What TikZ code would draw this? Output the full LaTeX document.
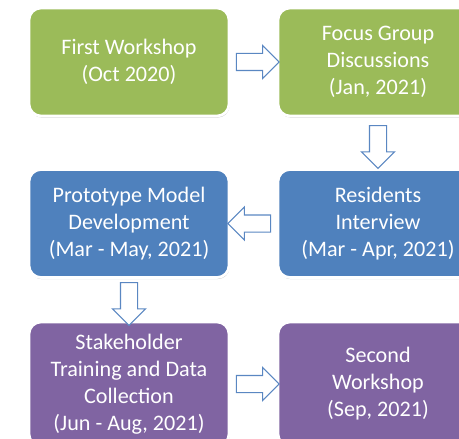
\documentclass[tikz,border=0pt]{standalone}
\usepackage{fontspec}
\setmainfont{Carlito}
\usetikzlibrary{shapes.arrows, shadows, calc}

\definecolor{phgreen}{HTML}{9BBB59}
\definecolor{phblue}{HTML}{4F81BD}
\definecolor{phpurple}{HTML}{8064A2}
\definecolor{arrowline}{HTML}{5A87C2}

\begin{document}
\begin{tikzpicture}[
  x=0.75pt, y=-0.75pt,
  phasebox/.style={rectangle, rounded corners=9pt, draw=white, line width=2pt,
                   minimum width=150pt, minimum height=81pt, align=center,
                   text=white, font=\fontsize{16.6}{20.25}\selectfont,
                   drop shadow={shadow xshift=0.5pt, shadow yshift=-1.2pt,
                                opacity=0.3, fill=black!70}},
  hollowarrow/.style={single arrow, draw=arrowline, fill=white, line width=0.8pt,
                      inner xsep=0pt, inner ysep=6pt, minimum height=32pt,
                      minimum width=24pt, single arrow head extend=6pt}
]
\useasboundingbox (0,0) rectangle (459,438);

\node[phasebox, fill=phgreen]  (fw)  at (129, 62)    {First Workshop\\(Oct 2020)};
\node[phasebox, fill=phgreen]  (fgd) at (378, 62)    {Focus Group\\Discussions\\(Jan, 2021)};
\node[phasebox, fill=phblue]   (res) at (378, 223.5) {Residents\\Interview\\(Mar - Apr, 2021)};
\node[phasebox, fill=phblue]   (pmd) at (129, 223.5) {Prototype Model\\Development\\(Mar - May, 2021)};
\node[phasebox, fill=phpurple, minimum height=93pt] (stc) at (129, 384)
     {Stakeholder\\Training and Data\\Collection\\(Jun - Aug, 2021)};
\node[phasebox, fill=phpurple, minimum height=93pt] (sw)  at (378, 384)
     {Second\\Workshop\\(Sep, 2021)};

\node[hollowarrow]             (a1) at ($(fw.east)!0.5!(fgd.west)$)   {};
\node[hollowarrow, rotate=-90] (a2) at ($(fgd.south)!0.5!(res.north)$) {};
\node[hollowarrow, rotate=180] (a3) at ($(res.west)!0.5!(pmd.east)$)  {};
\node[hollowarrow, rotate=-90] (a4) at ($(pmd.south)!0.5!(stc.north)$) {};
\node[hollowarrow]             (a5) at ($(stc.east)!0.5!(sw.west)$)   {};
\end{tikzpicture}
\end{document}
